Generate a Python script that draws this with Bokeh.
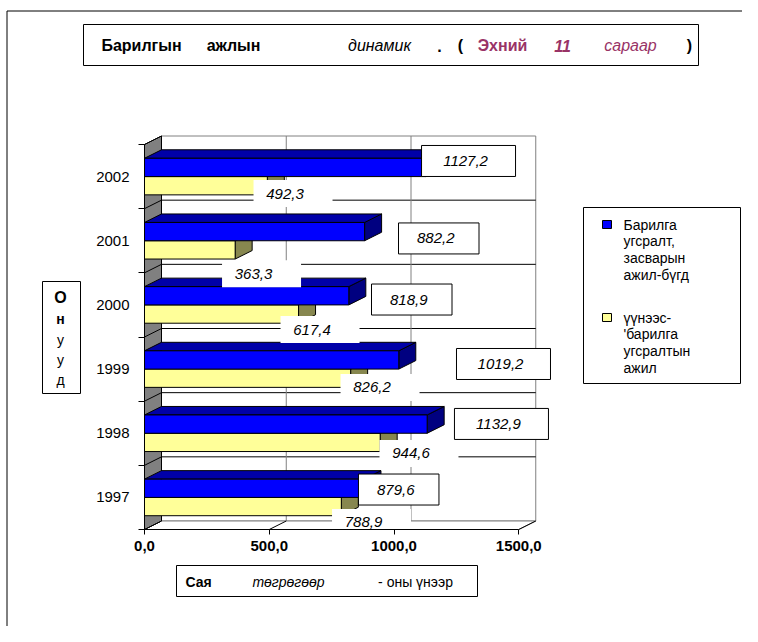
from bokeh.plotting import figure
from bokeh.models import Range1d, LinearAxis, FixedTicker
from bokeh.embed import file_html
from bokeh.resources import INLINE
from bokeh.core.properties import value

# ---------------- data ----------------
years = ["1997", "1998", "1999", "2000", "2001", "2002"]
total_work = [879.6, 1132.9, 1019.2, 818.9, 882.2, 1127.2]      # Барилга угсралт, засварын ажил-бүгд
construction = [788.9, 944.6, 826.2, 617.4, 363.3, 492.3]       # үүнээс-'барилга угсралтын ажил
x_ticks = [0, 500, 1000, 1500]
x_tick_labels = ["0,0", "500,0", "1000,0", "1500,0"]
series_labels = ["Барилга\nугсралт,\nзасварын\nажил-бүгд",
                 "үүнээс-\n'барилга\nугсралтын\nажил"]

# ---------------- style / geometry ----------------
FONT = "Liberation Sans"
W, H = 742, 626
PX0 = 144.0      # canvas x of value 0 on the front plane
SX = 0.2495      # px per value unit
PY_TOP = 144.0   # canvas y of the top of the category axis (front plane)
SY = 64.167      # px per category
DEPTH_PX = (17.0, 8.5)
BAR_H = 0.285
BLUE, BLUE_TOP, BLUE_SIDE = "#0000FF", "#0000A8", "#000080"
YEL, YEL_TOP, YEL_SIDE = "#FFFF99", "#C8C878", "#87874F"
WALL = "#808080"
PLUM = "#993366"

# per-label placement offsets (px) — styling only
blue_lbl_dx = [-5.5, 27.3, 57.7, 22.7, 33.9, -4.2]
blue_lbl_dy = [-7.9, -9.3, -5.1, -5.4, -2.3, -15.6]
yel_lbl_dx = [30.2, 38.8, 29.4, 21.5, 26.4, 25.7]
yel_lbl_dy = [25.0, 20.2, 18.4, 24.6, 33.0, 17.0]


def ux(px):
    return (px - PX0) / SX


def uy(py):
    return 5.5 - (py - PY_TOP) / SY


DX = DEPTH_PX[0] / SX
DY = DEPTH_PX[1] / SY

p = figure(width=W, height=H,
           x_range=Range1d(ux(0), ux(W)), y_range=Range1d(uy(H), uy(0)),
           output_backend="svg", toolbar_location=None,
           x_axis_location=None, y_axis_location=None, min_border=0)
p.outline_line_color = None
p.background_fill_color = "white"
p.border_fill_color = "white"
p.grid.visible = False

# outer frame (left & top edges visible in the reference)
p.segment(x0=[ux(6.5), ux(6.5)], y0=[uy(H), uy(10.5)],
          x1=[ux(6.5), ux(W)], y1=[uy(10.5), uy(10.5)],
          line_color="black", line_width=1)


def add_text(px, py, txt, style="normal", color="black", size="15px", align="left"):
    p.text(x=[ux(px)], y=[uy(py)], text=[txt], text_font=value(FONT),
           text_font_style=style, text_color=color, text_font_size=size,
           text_align=align, text_baseline="middle")


def box(x0, y0, x1, y1, line="black"):
    p.quad(left=ux(x0), right=ux(x1), top=uy(y0), bottom=uy(y1),
           fill_color="white", line_color=line, line_width=1)


# ---------------- 3D walls ----------------
n = len(years)
lo, hi = -0.5, n - 0.5
xmax = x_ticks[-1]
# back wall
p.quad(left=DX, right=xmax + DX, bottom=lo + DY, top=hi + DY,
       fill_color="white", line_color=WALL, line_width=1)
# horizontal gridlines on the back wall
inner = [k + 0.5 for k in range(n - 1)]
p.segment(x0=[DX] * len(inner), x1=[xmax + DX] * len(inner),
          y0=[b + DY for b in inner], y1=[b + DY for b in inner],
          line_color="black", line_width=1)
# vertical gridlines on the back wall
mid = x_ticks[1:-1]
p.segment(x0=[t + DX for t in mid], x1=[t + DX for t in mid],
          y0=[lo + DY] * len(mid), y1=[hi + DY] * len(mid),
          line_color=WALL, line_width=1)
# floor
p.patch([0, xmax, xmax + DX, DX], [lo, lo, lo + DY, lo + DY],
        fill_color="white", line_color=WALL, line_width=1)
p.segment(x0=x_ticks[1:], x1=[t + DX for t in x_ticks[1:]],
          y0=[lo] * 3, y1=[lo + DY] * 3, line_color="black", line_width=1)
# left wall
p.patch([0, 0, DX, DX], [lo, hi, hi + DY, lo + DY],
        fill_color=WALL, line_color="black", line_width=1)
bnds = [k - 0.5 for k in range(n + 1)]
p.segment(x0=[0] * len(bnds), x1=[DX] * len(bnds),
          y0=bnds, y1=[b + DY for b in bnds], line_color="black", line_width=1)


# ---------------- bars ----------------
def bars(vals, y0s, y1s, c_front, c_top, c_side):
    p.patches(xs=[[v, v + DX, v + DX, v] for v in vals],
              ys=[[a, a + DY, b + DY, b] for a, b in zip(y0s, y1s)],
              fill_color=c_side, line_color="black", line_width=1)
    p.patches(xs=[[0, v, v + DX, DX] for v in vals],
              ys=[[b, b, b + DY, b + DY] for b in y1s],
              fill_color=c_top, line_color="black", line_width=1)
    return p.quad(left=[0] * len(vals), right=vals, bottom=y0s, top=y1s,
                  fill_color=c_front, line_color="black", line_width=1)


ks = list(range(n))
r_yel = bars(construction, [k - BAR_H for k in ks], ks, YEL, YEL_TOP, YEL_SIDE)
r_blue = bars(total_work, ks, [k + BAR_H for k in ks], BLUE, BLUE_TOP, BLUE_SIDE)


def fmt(v):
    return f"{v:.1f}".replace(".", ",")


# ---------------- data labels ----------------
for k in ks:
    band_cy = PY_TOP + (5.5 - k) * SY
    v = construction[k]
    end = PX0 + v * SX
    cx = end + yel_lbl_dx[k]
    cy = band_cy + yel_lbl_dy[k]
    p.quad(left=ux(cx - 39.5), right=ux(cx + 39.5), top=uy(cy - 13.5), bottom=uy(cy + 13.5),
           fill_color="white", line_color=None)
    add_text(cx - 8, cy, fmt(v), style="italic", align="center")
for k in ks:
    band_cy = PY_TOP + (5.5 - k) * SY
    v = total_work[k]
    t = fmt(v)
    end = PX0 + v * SX
    left = end + blue_lbl_dx[k]
    w = 13.5 * len(t) + 13
    cy = band_cy + blue_lbl_dy[k]
    box(left, cy - 15.5, left + w, cy + 15.5)
    add_text(left + w / 2 - 3, cy, t, style="italic", align="center")

# ---------------- axes ----------------
xaxis = LinearAxis(fixed_location=lo, bounds=(0, xmax),
                   ticker=FixedTicker(ticks=x_ticks, minor_ticks=[]),
                   major_label_overrides=dict(zip(x_ticks, x_tick_labels)))
xaxis.major_tick_in = 0
xaxis.major_tick_out = 5
xaxis.minor_tick_out = 0
xaxis.axis_line_color = "black"
xaxis.major_tick_line_color = "black"
xaxis.major_label_text_font = FONT
xaxis.major_label_text_font_style = "bold"
xaxis.major_label_text_font_size = "15px"
xaxis.major_label_text_color = "black"
xaxis.major_label_standoff = 6
p.add_layout(xaxis, "below")

yaxis = LinearAxis(fixed_location=0, bounds=(lo, hi),
                   ticker=FixedTicker(ticks=ks, minor_ticks=bnds),
                   major_label_overrides={k: years[k] for k in ks})
yaxis.major_tick_in = 0
yaxis.major_tick_out = 0
yaxis.minor_tick_in = 0
yaxis.minor_tick_out = 6
yaxis.minor_tick_line_color = "black"
yaxis.axis_line_color = "black"
yaxis.major_label_text_font = FONT
yaxis.major_label_text_font_size = "15px"
yaxis.major_label_text_color = "black"
yaxis.major_label_standoff = 9
p.add_layout(yaxis, "left")

# ---------------- title ----------------
box(83, 24, 698, 65)
TY = 45
for txt, cx, st, col in [("Барилгын", 141, "bold", "black"),
                         ("ажлын", 233, "bold", "black"),
                         ("динамик", 379, "italic", "black"),
                         (".", 439, "bold", "black"),
                         ("(", 460, "bold", "black"),
                         ("Эхний", 502, "bold", PLUM),
                         ("11", 562, "bold italic", PLUM),
                         ("сараар", 630, "italic", PLUM),
                         (")", 689, "bold", "black")]:
    add_text(cx, TY, txt, style=st, color=col, size="16px", align="center")

# ---------------- axis titles ----------------
box(176, 565, 477, 596)
add_text(198, 581, "Сая", style="bold", size="14px", align="center")
add_text(288, 581, "төгрөгөөр", style="italic", size="14px", align="center")
add_text(415, 581, "- оны үнээр", size="14px", align="center")

box(42, 281, 80, 393)
for ch, py, st, sz in [("О", 297, "bold", "16px"), ("н", 318, "bold", "14px"),
                       ("у", 339, "normal", "14px"), ("у", 359, "normal", "14px"),
                       ("д", 379, "normal", "14px")]:
    add_text(60, py, ch, style=st, size=sz, align="center")

# ---------------- legend ----------------
box(583, 207, 740, 383)
for lbl, col, sy in [(series_labels[0], BLUE, 224), (series_labels[1], YEL, 317)]:
    p.quad(left=ux(602), right=ux(611), top=uy(sy - 4), bottom=uy(sy + 4),
           fill_color=col, line_color="black", line_width=1)
    p.text(x=[ux(623)], y=[uy(sy - 8)], text=[lbl], text_font=value(FONT),
           text_font_size="14px", text_color="black", text_align="left",
           text_baseline="top", text_line_height=1.05)

open("out.html", "w").write(file_html(p, INLINE))
